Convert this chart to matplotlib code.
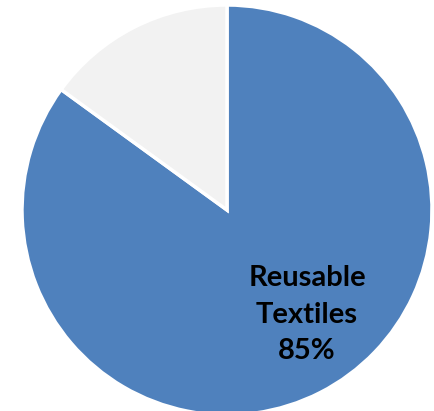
import matplotlib
matplotlib.use("Agg")
import matplotlib.pyplot as plt

labels = ["Reusable Textiles", "Other"]
shares = [85, 15]
colors = ["#4F81BD", "#F2F2F2"]

W, H = 435, 411
fig = plt.figure(figsize=(W / 100, H / 100), dpi=100)

# pie centre and radius in pixels
cx, cy_top, r = 227, 210, 205
cy = H - cy_top
ax = fig.add_axes([(cx - r) / W, (cy - r) / H, 2 * r / W, 2 * r / H])

ax.pie(shares, colors=colors, startangle=90, counterclock=False,
       radius=1.0, wedgeprops=dict(edgecolor="white", linewidth=2.5))
ax.set_xlim(-1, 1)
ax.set_ylim(-1, 1)
ax.set_aspect("auto")
ax.axis("off")

ax.text(0.39, -0.51, f"Reusable\nTextiles\n{shares[0]}%", ha="center", va="center",
        fontsize=21, fontweight="bold", family="Lato", color="black",
        linespacing=1.52)

fig.savefig("out.png", dpi=100)
